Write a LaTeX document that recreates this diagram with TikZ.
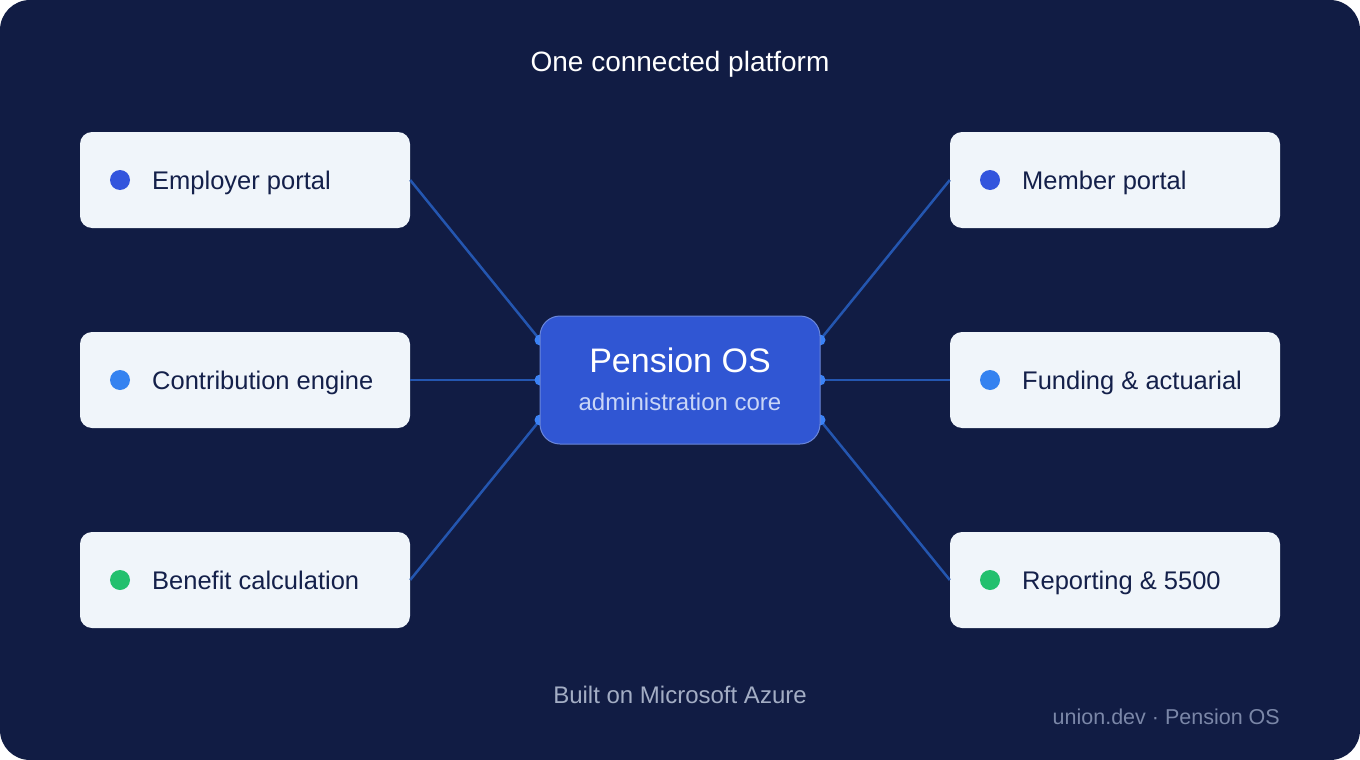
\documentclass[tikz,border=0pt]{standalone}
\usepackage{fontspec}
\setmainfont{Liberation Sans}
\usetikzlibrary{positioning, calc}
\definecolor{BgNavy}{HTML}{111C44}
\definecolor{CardFill}{HTML}{F0F5FA}
\definecolor{CardText}{HTML}{14204A}
\definecolor{CoreBlue}{HTML}{3056D3}
\definecolor{CoreEdge}{HTML}{6A86DA}
\definecolor{LinkBlue}{HTML}{2456B0}
\definecolor{PortBlue}{HTML}{3B82F6}
\definecolor{DotIndigo}{HTML}{3355DD}
\definecolor{DotSky}{HTML}{3482F0}
\definecolor{DotGreen}{HTML}{22C06E}
\definecolor{SubText}{HTML}{C9D6F7}
\definecolor{NoteGray}{HTML}{A3ADC4}
\definecolor{FootGray}{HTML}{7B87A8}

\begin{document}
\begin{tikzpicture}[x=1pt, y=-1pt,
          card/.style={rectangle, fill=CardFill, rounded corners=12pt,
                       minimum width=330pt, minimum height=96pt, inner sep=0pt},
          lbl/.style={anchor=base west, inner sep=0pt, text=CardText,
                      font=\fontsize{25.5}{30}\selectfont},
          dot/.style={circle, inner sep=0pt, minimum size=20pt},
          port/.style={circle, fill=PortBlue, inner sep=0pt, minimum size=11pt},
          link/.style={LinkBlue, line width=2.5pt}
        ]
        % page background
        \useasboundingbox (0,0) rectangle (1360,760);
        \fill[white] (0,0) rectangle (1360,760);
        \fill[BgNavy, rounded corners=30pt] (0,0) rectangle (1360,760);

        \node[anchor=base, text=white, font=\fontsize{28}{32}\selectfont] (title)
              at (680,72) {One connected platform};

        % side cards
        \foreach \i/\y/\c/\txt in {1/180/DotIndigo/Employer portal,
                                   2/380/DotSky/Contribution engine,
                                   3/580/DotGreen/Benefit calculation} {
          \node[card] (lbox\i) at (245,\y) {};
          \node[dot, fill=\c] (ldot\i) at (120,\y) {};
          \node[lbl] at (152,\y+9) {\txt};
        }
        \foreach \i/\y/\c/\txt in {1/180/DotIndigo/Member portal,
                                   2/380/DotSky/Funding \& actuarial,
                                   3/580/DotGreen/Reporting \& 5500} {
          \node[card] (rbox\i) at (1115,\y) {};
          \node[dot, fill=\c] (rdot\i) at (990,\y) {};
          \node[lbl] at (1022,\y+9) {\txt};
        }

        % ports on the core edges
        \foreach \i/\y in {1/340, 2/380, 3/420} {
          \coordinate (lp\i) at (540,\y);
          \coordinate (rp\i) at (820,\y);
          \draw[link] (lbox\i.east) -- (lp\i);
          \draw[link] (rbox\i.west) -- (rp\i);
          \node[port] at (lp\i) {};
          \node[port] at (rp\i) {};
        }

        % core block
        \node[rectangle, fill=CoreBlue, draw=CoreEdge, line width=1pt,
              rounded corners=20pt, minimum width=280pt, minimum height=128pt]
              (core) at (680,380) {};
        \node[anchor=base, text=white, font=\fontsize{34}{38}\selectfont] (coretitle)
              at (680,372) {Pension OS};
        \node[anchor=base, text=SubText, font=\fontsize{24}{28}\selectfont] (coresub)
              at (680,410) {administration core};

        \node[anchor=base, text=NoteGray, font=\fontsize{24}{28}\selectfont] (azure)
              at (680,703) {Built on Microsoft Azure};
        \node[anchor=base east, inner sep=0pt, text=FootGray,
              font=\fontsize{21.5}{26}\selectfont] (foot)
              at (1280,724) {union.dev · Pension OS};
      \end{tikzpicture}
\end{document}
